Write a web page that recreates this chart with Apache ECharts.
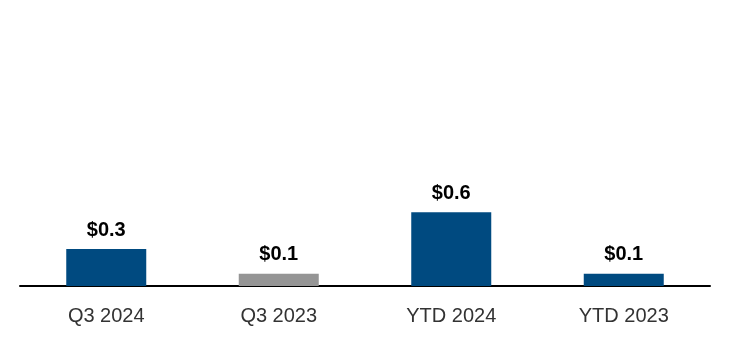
<!DOCTYPE html>
<html>
<head>
<meta charset="utf-8">
<script src="https://cdn.jsdelivr.net/npm/echarts@6/dist/echarts.min.js"></script>
<style>
  html, body { margin: 0; padding: 0; background: #ffffff; }
  #chart { width: 730px; height: 346px; }
</style>
</head>
<body>
<div id="chart"></div>
<script>
// Periods and amounts (in $ millions)
const categories = ['Q3 2024', 'Q3 2023', 'YTD 2024', 'YTD 2023'];
const values = [0.3, 0.1, 0.6, 0.1];
const barColors = ['#004A80', '#959595', '#004A80', '#004A80'];

const chart = echarts.init(document.getElementById('chart'), null, { renderer: 'canvas' });

chart.setOption({
  animation: false,
  backgroundColor: '#ffffff',
  grid: { left: 20, right: 20, top: 163, bottom: 60, containLabel: false },
  xAxis: {
    type: 'category',
    data: categories,
    axisLine: { show: true, lineStyle: { color: '#000000', width: 2 } },
    axisTick: { show: false },
    axisLabel: {
      color: '#333333',
      fontFamily: 'Liberation Sans, Arial, sans-serif',
      fontSize: 20,
      margin: 20
    }
  },
  yAxis: {
    type: 'value',
    min: 0,
    max: 1,
    show: false,
    splitLine: { show: false }
  },
  series: [{
    type: 'bar',
    barWidth: 80,
    data: values.map((v, i) => ({ value: v, itemStyle: { color: barColors[i] } })),
    label: {
      show: true,
      position: 'top',
      distance: 9,
      color: '#000000',
      fontWeight: 'bold',
      fontFamily: 'Liberation Sans, Arial, sans-serif',
      fontSize: 20,
      formatter: p => '$' + p.value.toFixed(1)
    }
  }]
});
</script>
</body>
</html>
